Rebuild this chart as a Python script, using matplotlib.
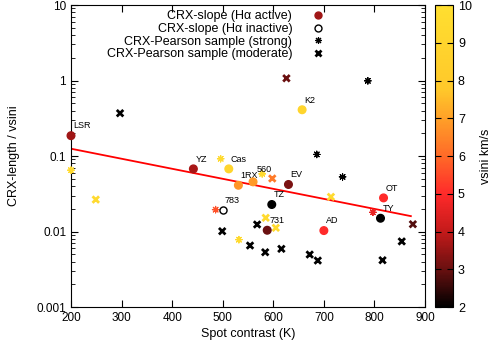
import matplotlib
matplotlib.use("Agg")
import matplotlib.pyplot as plt
from matplotlib.colors import LinearSegmentedColormap, Normalize
from matplotlib.lines import Line2D
from matplotlib.ticker import LogLocator, NullFormatter

plt.rcParams['font.family'] = ['Liberation Sans', 'DejaVu Sans']

# CRX-slope, Halpha active (filled circles)
act_names = ["LSR", "YZ", "Cas", "1RX", "560", "EV", "TZ", "731", "AD", "K2", "OT", "TY"]
act_x = [200, 442, 512, 531, 560, 630, 597, 588, 700, 657, 818, 812]
act_y = [0.186, 0.0676, 0.0676, 0.041, 0.0455, 0.042, 0.0228, 0.0104, 0.0103, 0.41, 0.0279, 0.015]
act_v = [3.6, 3.7, 9.0, 6.8, 6.9, 3.2, 2.0, 3.0, 5.0, 9.0, 5.0, 2.0]

# CRX-slope, Halpha inactive (open circle)
ina_names = ["783"]
ina_x = [500]
ina_y = [0.019]

# CRX-Pearson sample (strong)
str_x = [200, 496, 578, 486, 532, 686, 737, 787, 797]
str_y = [0.065, 0.092, 0.058, 0.0195, 0.0078, 0.105, 0.053, 0.99, 0.018]
str_v = [9.5, 9.5, 9.5, 5.6, 9.5, 2.0, 2.0, 2.0, 4.6]

# CRX-Pearson sample (moderate)
mod_x = [249, 297, 499, 554, 568, 584, 585, 598, 605, 616, 626, 672, 688, 714, 816, 854, 876]
mod_y = [0.0265, 0.369, 0.0101, 0.00653, 0.0124, 0.00532, 0.0152, 0.0504, 0.0112, 0.0059,
         1.07, 0.00496, 0.00413, 0.0288, 0.00417, 0.0074, 0.0125]
mod_v = [9.5, 2.0, 2.0, 2.0, 2.0, 2.0, 9.5, 6.3, 9.5, 2.0, 3.0, 2.0, 2.0, 9.5, 2.0, 2.0, 2.8]

# fitted line (end points)
fit_x = [200, 872]
fit_y = [0.125, 0.016]

cmap = LinearSegmentedColormap.from_list("vsini", [
    (0.0, "#000000"), (0.125, "#6a1010"), (0.25, "#c41a1a"), (0.375, "#ff2a2a"),
    (0.5, "#ff6a28"), (0.625, "#ffa028"), (0.72, "#ffc82a"), (1.0, "#ffdf30")])
norm = Normalize(2, 10)

fig = plt.figure(figsize=(4.91, 3.45), dpi=100)
ax = fig.add_axes([0.1446, 0.110, 0.721, 0.8755])
cax = fig.add_axes([0.886, 0.110, 0.0367, 0.8755])

ax.plot(fit_x, fit_y, color="red", lw=1.3, zorder=1)

ax.scatter(mod_x, mod_y, c=mod_v, cmap=cmap, norm=norm, marker="x", s=22, linewidths=2,
           zorder=3, clip_on=False)
ax.scatter(str_x, str_y, c=str_v, cmap=cmap, norm=norm, marker=(8, 2, 0), s=22, linewidths=0.8,
           zorder=3, clip_on=False)
sc = ax.scatter(act_x, act_y, c=act_v, cmap=cmap, norm=norm, marker="o", s=30, zorder=4,
                clip_on=False)
ax.scatter(ina_x, ina_y, facecolors="white", edgecolors="black", marker="o", s=26, linewidths=1,
           zorder=4)

for n, x, y in zip(act_names + ina_names, act_x + ina_x, act_y + ina_y):
    dx, dy = (2.5, 9) if n == "560" else (1.5, 7)
    ax.annotate(n, (x, y), xytext=(dx, dy), textcoords="offset points",
                fontsize=6.5, ha="left", va="center")

ax.set_yscale("log")
ax.set_xlim(200, 900)
ax.set_ylim(0.001, 10)
ax.set_xticks(range(200, 901, 100))
ax.set_yticks([0.001, 0.01, 0.1, 1, 10])
ax.set_yticklabels(["0.001", "0.01", "0.1", "1", "10"])
ax.yaxis.set_minor_locator(LogLocator(base=10, subs=range(2, 10), numticks=20))
ax.yaxis.set_minor_formatter(NullFormatter())
ax.tick_params(which="both", direction="in", top=True, right=True, labelsize=8.5)
ax.tick_params(which="major", length=5)
ax.tick_params(which="minor", length=3)
ax.set_xlabel("Spot contrast (K)", fontsize=9, labelpad=3)
ax.set_ylabel("CRX-length / vsini", fontsize=9, labelpad=12)

handles = [
    Line2D([], [], ls="none", marker="o", color=cmap(norm(3.6)), markersize=5),
    Line2D([], [], ls="none", marker="o", mfc="white", mec="black", markersize=5),
    Line2D([], [], ls="none", marker=(8, 2, 0), color="black", markersize=5, mew=0.8),
    Line2D([], [], ls="none", marker="x", color="black", markersize=5, mew=2),
]
labels = ["CRX-slope (Hα active)", "CRX-slope (Hα inactive)",
          "CRX-Pearson sample (strong)", "CRX-Pearson sample (moderate)"]
ax.legend(handles, labels, loc="upper right", bbox_to_anchor=(0.745, 1.015), frameon=False,
          markerfirst=False, fontsize=9, handlelength=1.0, handletextpad=1.6,
          labelspacing=0.05, borderpad=0.3)

cb = fig.colorbar(sc, cax=cax)
cb.set_ticks(range(2, 11))
cb.ax.tick_params(direction="in", left=True, right=True, length=4, labelsize=9)
cb.set_label("vsini km/s", fontsize=9, labelpad=6)

fig.savefig("out.png", dpi=100)
